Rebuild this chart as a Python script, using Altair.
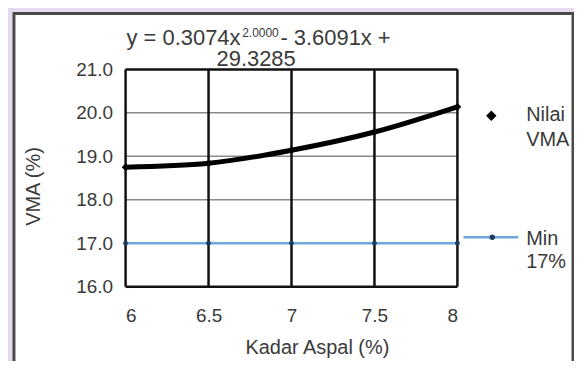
import altair as alt
import pandas as pd

# ---- data ----
kadar = [6, 6.5, 7, 7.5, 8]
vma = [18.75, 18.84, 19.14, 19.56, 20.14]
vma_min = [17, 17, 17, 17, 17]
x_ticks = [6, 6.5, 7, 7.5, 8]
y_ticks = [16, 17, 18, 19, 20, 21]
y_grid_minor = [17, 18, 19, 20]
y_border = [16, 21]

df = pd.DataFrame({"kadar": kadar, "vma": vma, "min": vma_min})
vgrid = pd.DataFrame({"kadar": x_ticks})
hgrid = pd.DataFrame({"v": y_grid_minor})
hborder = pd.DataFrame({"v": y_border})
one = pd.DataFrame({"a": [0]})

W, H = 333, 218
FONT = "Liberation Sans"
TXT = "#3a3a3a"

xscale = alt.Scale(domain=[6, 8], nice=False, zero=False)
yscale = alt.Scale(domain=[16, 21], nice=False, zero=False)

x_axis = alt.Axis(values=x_ticks, format="~g", title="Kadar Aspal  (%)", grid=False,
                  domain=False, ticks=False, labelPadding=20, labelFontSize=19,
                  labelColor=TXT, labelFont=FONT, titleFont=FONT, titleFontSize=20,
                  titleFontWeight="normal", titleColor=TXT, titleX=192, titleY=61,
                  titleBaseline="middle", titleAlign="center", zindex=2)
y_axis = alt.Axis(values=y_ticks, format=".1f", title="VMA (%)", grid=False,
                  domain=False, ticks=False, labelPadding=13, labelFontSize=19,
                  labelColor=TXT, labelFont=FONT, titleFont=FONT, titleFontSize=20,
                  titleFontWeight="normal", titleColor=TXT, titleX=-92, titleY=117,
                  titleAngle=270, titleBaseline="middle", titleAlign="center", zindex=2)

frame = alt.Chart(one).mark_rect(fill="white", stroke="#4a4a4a", strokeWidth=3).encode(
    x=alt.value(-112), x2=alt.value(449), y=alt.value(-56), y2=alt.value(294))

hg = alt.Chart(hgrid).mark_rule(color="#8a8a8a", strokeWidth=1.5).encode(
    y=alt.Y("v:Q", scale=yscale, axis=y_axis))
hb = alt.Chart(hborder).mark_rule(color="#111111", strokeWidth=2.5).encode(
    y=alt.Y("v:Q", scale=yscale))
vg = alt.Chart(vgrid).mark_rule(color="#111111", strokeWidth=2.5).encode(
    x=alt.X("kadar:Q", scale=xscale, axis=x_axis))

base = alt.Chart(df)
min_line = base.mark_line(color="#6fa8dc", strokeWidth=2.5).encode(
    x=alt.X("kadar:Q", scale=xscale), y=alt.Y("min:Q", scale=yscale))
min_pts = base.mark_point(filled=True, size=22, color="#1f3a60", opacity=1).encode(
    x=alt.X("kadar:Q", scale=xscale), y=alt.Y("min:Q", scale=yscale))
curve = base.mark_line(color="black", strokeWidth=5, interpolate="monotone").encode(
    x=alt.X("kadar:Q", scale=xscale), y=alt.Y("vma:Q", scale=yscale))
pts = base.mark_point(shape="diamond", filled=True, size=60, color="black", opacity=1).encode(
    x=alt.X("kadar:Q", scale=xscale), y=alt.Y("vma:Q", scale=yscale))

def txt(s, x, y, size=20, align="left"):
    return alt.Chart(one).mark_text(align=align, baseline="middle", font=FONT,
                                    fontSize=size, color=TXT).encode(
        x=alt.value(x), y=alt.value(y), text=alt.value(s))

leg_d = alt.Chart(one).mark_point(shape="diamond", filled=True, size=110, color="black", opacity=1).encode(
    x=alt.value(367), y=alt.value(46.5))
leg_l = alt.Chart(one).mark_rule(color="#6fa8dc", strokeWidth=2.5).encode(
    x=alt.value(339), x2=alt.value(394), y=alt.value(168.5))
leg_p = alt.Chart(one).mark_point(filled=True, size=30, color="#1f3a60", opacity=1).encode(
    x=alt.value(368), y=alt.value(168.5))

texts = [
    txt("Nilai", 402, 45.5), txt("VMA", 402, 70.5),
    txt("Min", 402, 170.5), txt("17%", 402, 193.5),
    txt("y = 0.3074x", 1, -31.5, 22, "left"),
    txt("2.0000", 117, -37, 12),
    txt("- 3.6091x +", 266, -31.5, 22, "right"),
    txt("29.3285", 131, -10.5, 22, "center"),
]

chart = alt.layer(frame, hg, vg, hb, min_line, min_pts, curve, pts,
                  leg_d, leg_l, leg_p, *texts).properties(
    width=W, height=H,
    autosize=alt.AutoSizeParams(type="none"),
    padding={"left": 118, "top": 61, "right": 117, "bottom": 74},
).configure(background="#e6daf0").configure_view(stroke=None)

chart.save("out.html", embed_options={"renderer": "svg", "actions": False})
